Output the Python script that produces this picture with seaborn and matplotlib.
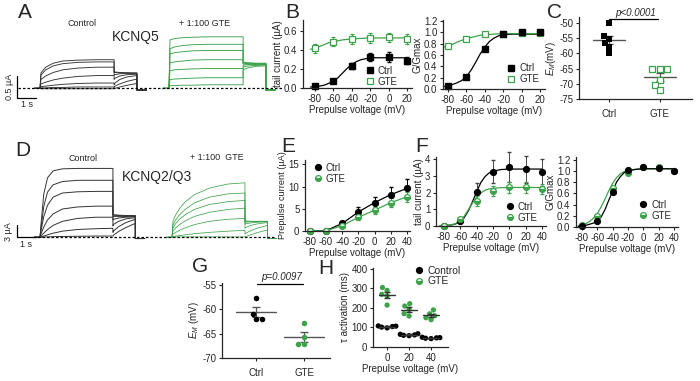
import matplotlib
matplotlib.use("Agg")
import matplotlib.pyplot as plt
from matplotlib.lines import Line2D
import numpy as np
import pandas as pd
import seaborn as sns

# ---------------- data ----------------
# A: KCNQ5 current traces (uA) sampled at pulse / tail times (s)
a_t_pulse = [0.0, 0.05, 0.3, 0.7, 1.2, 2.0, 3.0, 3.9]
a_t_tail = [3.9, 3.95, 4.2, 4.6, 5.1]
a_ctrl_pulse = [
    [0, 0.35, 0.48, 0.57, 0.62, 0.64, 0.65, 0.65],
    [0, 0.30, 0.42, 0.51, 0.56, 0.59, 0.60, 0.60],
    [0, 0.20, 0.28, 0.36, 0.42, 0.46, 0.48, 0.48],
    [0, 0.10, 0.14, 0.19, 0.23, 0.27, 0.29, 0.29],
    [0, 0.04, 0.05, 0.07, 0.09, 0.11, 0.12, 0.12],
    [0, 0.01, 0.01, 0.02, 0.02, 0.03, 0.03, 0.03],
    [0, -0.01, -0.01, -0.01, -0.01, -0.01, -0.01, -0.01],
]
a_ctrl_tail = [
    [0.37, 0.37, 0.36, 0.35, 0.35],
    [0.36, 0.36, 0.35, 0.35, 0.34],
    [0.30, 0.31, 0.33, 0.34, 0.34],
    [0.20, 0.23, 0.28, 0.31, 0.32],
    [0.08, 0.12, 0.20, 0.26, 0.29],
    [0.02, 0.05, 0.10, 0.16, 0.21],
    [-0.01, 0.00, 0.03, 0.07, 0.11],
]
a_gte_pulse = [
    [0, 1.10, 1.13, 1.15, 1.16, 1.17, 1.17, 1.17],
    [0, 0.90, 0.94, 0.97, 0.99, 1.00, 1.00, 1.00],
    [0, 0.78, 0.81, 0.83, 0.85, 0.86, 0.86, 0.86],
    [0, 0.58, 0.60, 0.62, 0.64, 0.65, 0.65, 0.65],
    [0, 0.40, 0.42, 0.43, 0.44, 0.45, 0.45, 0.45],
    [0, 0.20, 0.21, 0.22, 0.23, 0.24, 0.24, 0.24],
    [0, 0.06, 0.06, 0.07, 0.07, 0.08, 0.08, 0.08],
]
a_gte_tail = [
    [0.60, 0.59, 0.58, 0.57, 0.57],
    [0.58, 0.58, 0.57, 0.56, 0.56],
    [0.57, 0.57, 0.56, 0.56, 0.55],
    [0.55, 0.55, 0.55, 0.55, 0.55],
    [0.52, 0.53, 0.54, 0.54, 0.54],
    [0.47, 0.49, 0.51, 0.52, 0.53],
    [0.40, 0.43, 0.47, 0.50, 0.51],
]
a_off = -0.04

# D: KCNQ2/Q3 current traces (uA)
d_t_pulse = [0.0, 0.05, 0.2, 0.4, 0.7, 1.2, 2.0, 3.0, 3.9]
d_t_tail = [3.9, 3.95, 4.2, 4.6, 5.1]
d_ctrl_pulse = [
    [0, 3.0, 10.5, 14.5, 16.2, 16.7, 16.8, 16.8, 16.8],
    [0, 2.0, 7.5, 11.0, 12.8, 13.6, 13.9, 13.9, 13.9],
    [0, 1.5, 5.0, 7.8, 9.8, 10.8, 11.1, 11.2, 11.2],
    [0, 0.8, 2.5, 4.2, 5.7, 6.9, 7.4, 7.6, 7.6],
    [0, 0.3, 1.0, 1.9, 2.9, 3.9, 4.6, 4.9, 4.9],
    [0, 0.1, 0.3, 0.6, 1.0, 1.5, 1.9, 2.1, 2.2],
    [0, 0.0, 0.05, 0.1, 0.15, 0.2, 0.25, 0.3, 0.3],
]
d_ctrl_tail = [
    [5.6, 5.5, 5.4, 5.3, 5.3],
    [5.4, 5.4, 5.3, 5.2, 5.2],
    [5.1, 5.1, 5.1, 5.1, 5.1],
    [4.2, 4.4, 4.7, 4.9, 5.0],
    [2.8, 3.2, 3.9, 4.5, 4.8],
    [1.2, 1.6, 2.6, 3.6, 4.4],
    [0.3, 0.6, 1.4, 2.4, 3.4],
]
d_gte_pulse = [
    [0, 4.0, 5.5, 7.0, 8.6, 10.4, 12.0, 13.0, 13.3],
    [0, 3.0, 4.3, 5.5, 6.8, 8.4, 9.8, 10.6, 10.8],
    [0, 2.3, 3.4, 4.4, 5.5, 6.8, 8.0, 8.7, 9.0],
    [0, 1.5, 2.3, 3.1, 4.0, 5.1, 6.1, 6.8, 7.1],
    [0, 0.8, 1.2, 1.7, 2.3, 3.1, 3.9, 4.4, 4.6],
    [0, 0.2, 0.3, 0.4, 0.6, 0.9, 1.2, 1.5, 1.7],
    [0, 0.1, 0.1, 0.1, 0.1, 0.1, 0.1, 0.1, 0.1],
]
d_gte_tail = [
    [4.0, 4.0, 3.9, 3.9, 3.9],
    [3.9, 3.9, 3.9, 3.9, 3.9],
    [3.7, 3.7, 3.8, 3.8, 3.8],
    [3.2, 3.3, 3.5, 3.7, 3.8],
    [2.2, 2.4, 2.9, 3.3, 3.6],
    [0.8, 1.0, 1.6, 2.3, 2.9],
    [0.1, 0.2, 0.6, 1.2, 1.8],
]
d_off = -0.3

# B: KCNQ5 tail current and G/Gmax
b_volts = [-80, -60, -40, -20, 0, 20]
b_tail_ctrl = [0.02, 0.07, 0.23, 0.33, 0.33, 0.29]
b_tail_ctrl_err = [0.01, 0.01, 0.03, 0.04, 0.05, 0.04]
b_tail_gte = [0.42, 0.49, 0.52, 0.53, 0.535, 0.52]
b_tail_gte_err = [0.05, 0.05, 0.05, 0.05, 0.05, 0.05]
b_fit_v = [-85, -80, -75, -70, -65, -60, -55, -50, -45, -40, -35, -30, -25, -20, -10, 0, 10, 20]
b_tail_ctrl_fit = [0.01, 0.015, 0.02, 0.03, 0.05, 0.07, 0.11, 0.16, 0.21, 0.25, 0.28, 0.30, 0.31, 0.32, 0.32, 0.32, 0.32, 0.32]
b_tail_gte_fit = [0.41, 0.42, 0.44, 0.46, 0.48, 0.49, 0.50, 0.51, 0.515, 0.52, 0.523, 0.525, 0.528, 0.53, 0.53, 0.53, 0.53, 0.53]
b_g_ctrl = [0.06, 0.21, 0.70, 0.98, 1.0, 1.0]
b_g_gte = [0.76, 0.89, 0.97, 0.98, 0.99, 0.99]
b_g_ctrl_fit = [0.04, 0.06, 0.08, 0.11, 0.15, 0.22, 0.33, 0.47, 0.62, 0.74, 0.84, 0.90, 0.94, 0.96, 0.97, 0.97, 0.97, 0.97]
b_g_gte_fit = [0.74, 0.76, 0.79, 0.83, 0.86, 0.89, 0.91, 0.93, 0.95, 0.96, 0.965, 0.97, 0.975, 0.98, 0.98, 0.98, 0.98, 0.98]

# C: KCNQ5 resting membrane potential (mV)
c_ctrl = [-50.0, -54.1, -55.2, -56.6, -57.9, -59.9]
c_gte = [-65.1, -65.1, -65.1, -68.7, -70.4, -72.0]

# E / F: KCNQ2/Q3 prepulse current, tail current and G/Gmax
ef_volts = [-80, -60, -40, -20, 0, 20, 40]
e_ctrl = [0.0, 0.1, 1.7, 4.3, 6.4, 8.2, 9.6]
e_ctrl_err = [0.05, 0.1, 0.4, 1.0, 1.3, 1.7, 2.2]
e_gte = [0.0, 0.05, 1.2, 3.1, 4.7, 6.4, 7.7]
e_gte_err = [0.05, 0.1, 0.3, 0.6, 0.8, 1.0, 1.2]
f_tail_ctrl = [0.0, 0.3, 2.05, 3.25, 3.5, 3.38, 3.2]
f_tail_ctrl_err = [0.05, 0.1, 0.5, 0.7, 0.9, 0.8, 0.8]
f_tail_gte = [0.0, 0.4, 1.5, 2.1, 2.3, 2.3, 2.2]
f_tail_gte_err = [0.05, 0.1, 0.3, 0.3, 0.3, 0.3, 0.3]
f_fit_v = [-85, -80, -75, -70, -65, -60, -55, -50, -45, -40, -35, -30, -25, -20, -10, 0, 10, 20, 30, 40]
f_tail_ctrl_fit = [0.01, 0.02, 0.04, 0.07, 0.14, 0.28, 0.52, 0.92, 1.46, 2.06, 2.58, 2.94, 3.16, 3.28, 3.37, 3.4, 3.4, 3.4, 3.4, 3.4]
f_tail_gte_fit = [0.01, 0.02, 0.04, 0.08, 0.17, 0.34, 0.60, 0.98, 1.38, 1.73, 1.97, 2.13, 2.21, 2.25, 2.29, 2.3, 2.3, 2.3, 2.3, 2.3]
f_g_ctrl = [0.02, 0.10, 0.62, 1.01, 1.08, 1.05, 1.00]
f_g_gte = [0.03, 0.20, 0.69, 0.97, 1.07, 1.08, 1.00]
f_g_ctrl_fit = [0.01, 0.02, 0.03, 0.05, 0.07, 0.10, 0.18, 0.31, 0.48, 0.64, 0.80, 0.90, 0.97, 1.00, 1.03, 1.04, 1.04, 1.04, 1.04, 1.04]
f_g_gte_fit = [0.02, 0.03, 0.06, 0.10, 0.16, 0.24, 0.36, 0.50, 0.65, 0.78, 0.88, 0.95, 0.99, 1.01, 1.03, 1.04, 1.04, 1.04, 1.04, 1.04]

# G: KCNQ2/Q3 resting membrane potential (mV)
g_ctrl = [-57.7, -60.9, -61.9, -61.9]
g_gte = [-62.9, -65.6, -67.1, -67.1]

# H: activation time constant (ms)
h_volts = ["0", "20", "40"]
h_ctrl = [[98, 102, 105, 107, 108], [58, 60, 62, 65, 68], [43, 45, 47, 48, 50]]
h_gte = [[215, 262, 270, 290, 305], [159, 171, 193, 210, 222], [140, 150, 160, 170, 190]]

# ---------------- style ----------------
sns.set_style("ticks")
plt.rcParams['font.family'] = ['Liberation Sans', 'DejaVu Sans']
plt.rcParams['axes.unicode_minus'] = False
plt.rcParams['mathtext.fontset'] = 'custom'
plt.rcParams['mathtext.rm'] = 'Liberation Sans'
plt.rcParams['mathtext.it'] = 'Liberation Sans:italic'
plt.rcParams['axes.linewidth'] = 0.9
plt.rcParams['xtick.major.size'] = 2.5
plt.rcParams['ytick.major.size'] = 2.5
plt.rcParams['xtick.major.width'] = 0.8
plt.rcParams['ytick.major.width'] = 0.8
plt.rcParams['xtick.major.pad'] = 1.5
plt.rcParams['ytick.major.pad'] = 1.5
plt.rcParams['xtick.labelsize'] = 7
plt.rcParams['ytick.labelsize'] = 7
plt.rcParams['axes.labelsize'] = 7
plt.rcParams['axes.labelpad'] = 1.5

GREEN = '#3da34a'
W, H = 700, 381

fig = plt.figure(figsize=(7, 3.81), dpi=100)


def box(x0, y0, x1, y1):
    return fig.add_axes([x0 / W, 1 - y1 / H, (x1 - x0) / W, (y1 - y0) / H])


def draw_traces(ax, t0, tp, pulses, tt, tails, off, color, lw):
    for p, q in zip(pulses, tails):
        x = [t0 - 0.3, t0] + [t0 + v for v in tp] + [t0 + v for v in tt] + [t0 + tt[-1], t0 + tt[-1] + 0.5]
        y = [0, 0] + list(p) + list(q) + [off, off]
        ax.plot(x, y, color=color, lw=lw, solid_joinstyle='round')


def trace_axes(ax, xlim, ylim):
    ax.set_xlim(*xlim)
    ax.set_ylim(*ylim)
    ax.axis('off')


# ---------------- A ----------------
axA = box(0, 15, 290, 112)
trace_axes(axA, (-40 / 19, 250 / 19), ((88.3 - 112) / 44, (88.3 - 15) / 44))
draw_traces(axA, 0, a_t_pulse, a_ctrl_pulse, a_t_tail, a_ctrl_tail, a_off, '#333333', 0.65)
draw_traces(axA, 6.79, a_t_pulse, a_gte_pulse, a_t_tail, a_gte_tail, a_off, GREEN, 0.65)
axA.plot([-1.16, 12.74], [0, 0], ls=(0, (2, 1.6)), color='black', lw=0.9)
axA.plot([-1.21, -1.21, -0.21], [0.28, -0.22, -0.22], color='black', lw=0.9)
axA.text(-1.6, 0.03, '0.5 µA', rotation=90, ha='center', va='center', fontsize=6.5)
axA.text(-0.7, -0.27, '1 s', ha='center', va='top', fontsize=6.5)

# ---------------- D ----------------
axD = box(0, 140, 290, 262)
trace_axes(axD, (-40 / 18.7, 250 / 18.7), ((237.3 - 262) / 4.1, (237.3 - 140) / 4.1))
draw_traces(axD, 0, d_t_pulse, d_ctrl_pulse, d_t_tail, d_ctrl_tail, d_off, '#333333', 0.7)
draw_traces(axD, 7.06, d_t_pulse, d_gte_pulse, d_t_tail, d_gte_tail, d_off, GREEN, 0.55)
axD.plot([-0.4, 12.6], [0, 0], ls=(0, (2, 1.6)), color='black', lw=0.9)
axD.plot([-1.23, -1.23, -0.23], [3.0, 0, 0], color='black', lw=0.9)
axD.text(-1.7, 1.5, '3 µA', rotation=90, ha='center', va='center', fontsize=6.5)
axD.text(-0.73, -0.6, '1 s', ha='center', va='top', fontsize=6.5)


# ---------------- helpers for the curve panels ----------------
def finish(ax, xlim, ylim, xticks, yticks, xlabel, ylabel, yfmt=None):
    ax.set_xlim(*xlim)
    ax.set_ylim(*ylim)
    ax.set_xticks(xticks)
    ax.set_yticks(yticks)
    if yfmt:
        ax.set_yticklabels([yfmt.format(v) for v in yticks])
    ax.set_xlabel(xlabel, labelpad=1)
    ax.set_ylabel(ylabel, labelpad=1)
    sns.despine(ax=ax)
    ax.patch.set_alpha(0)


def small_legend(ax, handles, labels, loc, anchor):
    ax.legend(handles, labels, loc=loc, bbox_to_anchor=anchor, frameon=False, fontsize=7,
              handlelength=0.8, handletextpad=0.4, labelspacing=0.1, borderpad=0)


sq_ctrl = dict(marker='s', ms=3.8, mfc='black', mec='black', ls='none')
sq_gte = dict(marker='s', ms=4.2, mfc='white', mec=GREEN, mew=0.9, ls='none')
ci_ctrl = dict(marker='o', ms=4.2, mfc='black', mec='black')
ci_gte = dict(marker='o', ms=4.2, mfc=GREEN, mec=GREEN, fillstyle='bottom', mfcalt='white', mew=0.9)
ci_h = [Line2D([], [], ls='none', **ci_ctrl), Line2D([], [], ls='none', **ci_gte)]
sq_h = [Line2D([], [], **sq_ctrl), Line2D([], [], **sq_gte)]

# ---------------- B left ----------------
axB1 = box(303, 20, 412, 88)
axB1.plot(b_fit_v, b_tail_ctrl_fit, color='black', lw=0.9)
axB1.plot(b_fit_v, b_tail_gte_fit, color=GREEN, lw=0.9)
axB1.errorbar(b_volts, b_tail_ctrl, yerr=b_tail_ctrl_err, ecolor='black', elinewidth=0.7, capsize=1.5, clip_on=False, **sq_ctrl)
axB1.errorbar(b_volts, b_tail_gte, yerr=b_tail_gte_err, ecolor=GREEN, elinewidth=0.7, capsize=1.5, clip_on=False, **sq_gte)
finish(axB1, (-93, 25), (0, 0.72), [-80, -60, -40, -20, 0, 20], [0, 0.2, 0.4, 0.6],
       'Prepulse voltage (mV)', 'tail current (µA)', '{:.1f}')
small_legend(axB1, sq_h, ['Ctrl', 'GTE'], 'lower right', (0.91, -0.05))

# ---------------- B right ----------------
axB2 = box(443, 20, 545, 89)
axB2.plot(b_fit_v, b_g_ctrl_fit, color='black', lw=0.9)
axB2.plot(b_fit_v, b_g_gte_fit, color=GREEN, lw=0.9)
axB2.plot(b_volts, b_g_gte, clip_on=False, **sq_gte)
axB2.plot(b_volts, b_g_ctrl, clip_on=False, **sq_ctrl)
finish(axB2, (-85.4, 25.4), (0, 1.22), [-80, -60, -40, -20, 0, 20], [0, 0.2, 0.4, 0.6, 0.8, 1.0, 1.2],
       'Prepulse voltage (mV)', 'G/Gmax', '{:.1f}')
small_legend(axB2, sq_h, ['Ctrl', 'GTE'], 'lower right', (0.99, 0.0))


# ---------------- scatter panels ----------------
def dot_panel(ax, groups, values, colors, markers, open_face, size, mean_w, cap):
    df = pd.DataFrame({'group': np.repeat(groups, [len(v) for v in values]),
                       'value': np.concatenate(values)})
    for i, g in enumerate(groups):
        sns.swarmplot(data=df[df.group == g], x='group', y='value', order=groups, color=colors[i],
                      marker=markers[i], size=size, ax=ax, warn_thresh=1.0, zorder=3)
        coll = ax.collections[-1]
        if open_face[i]:
            coll.set_facecolor('white')
            coll.set_edgecolor(colors[i])
            coll.set_linewidth(0.9)
        else:
            coll.set_edgecolor(colors[i])
        vals = np.array(values[i])
        m = vals.mean()
        s = vals.std(ddof=1) / np.sqrt(len(vals))
        ax.plot([i - mean_w, i + mean_w], [m, m], color='#555555', lw=1.0, zorder=2)
        ax.errorbar(i, m, yerr=s, color='#555555', elinewidth=0.9, capsize=cap, zorder=2)


# C
axC = box(579, 17, 692, 99)
dot_panel(axC, ['Ctrl', 'GTE'], [c_ctrl, c_gte], ['black', GREEN], ['s', 's'], [False, True], 4.2, 0.32, 3)
axC.set_xlim(-0.59, 1.63)
axC.set_ylim(-75, -48)
axC.set_yticks([-50, -55, -60, -65, -70, -75])
axC.set_xlabel('')
axC.set_ylabel(r'$E_M$(mV)', labelpad=1)
axC.tick_params(axis='x', pad=5)
sns.despine(ax=axC)
axC.plot([0, 0.97], [-48.6, -48.6], color='black', lw=0.9, clip_on=False)
fig.text(636 / W, 1 - 13 / H, 'p<0.0001', style='italic', fontsize=7, ha='center', va='center')

# G
axG = box(222, 283, 330, 358)
dot_panel(axG, ['Ctrl', 'GTE'], [g_ctrl, g_gte], ['black', GREEN], ['o', 'o'], [False, False], 4.0, 0.42, 3)
axG.set_xlim(-0.71, 1.54)
axG.set_ylim(-70, -54.6)
axG.set_yticks([-55, -60, -65, -70])
axG.set_xlabel('')
axG.set_ylabel(r'$E_M$ (mV)', labelpad=1)
axG.tick_params(axis='x', pad=5)
sns.despine(ax=axG)
axG.plot([0.02, 0.98], [-54.8, -54.8], color='black', lw=0.9, clip_on=False)
fig.text(282 / W, 1 - 277 / H, 'p=0.0097', style='italic', fontsize=7, ha='center', va='center')

# ---------------- E ----------------
axE = box(305, 160, 410, 231)
axE.errorbar(ef_volts, e_ctrl, yerr=e_ctrl_err, color='black', lw=0.9, elinewidth=0.7, capsize=1.5,
             clip_on=False, **ci_ctrl)
axE.errorbar(ef_volts, e_gte, yerr=e_gte_err, color=GREEN, lw=0.9, elinewidth=0.7, capsize=1.5,
             clip_on=False, **ci_gte)
finish(axE, (-86, 43.7), (0, 16), ef_volts, [0, 5, 10, 15], 'Prepulse voltage (mV)', 'Prepulse current (µA)')
axE.yaxis.label.set_fontsize(6.6)
small_legend(axE, ci_h, ['Ctrl', 'GTE'], 'upper left', (0.04, 1.03))

# ---------------- F left ----------------
axF1 = box(436, 157, 546, 226)
axF1.plot(f_fit_v, f_tail_ctrl_fit, color='black', lw=0.9)
axF1.plot(f_fit_v, f_tail_gte_fit, color=GREEN, lw=0.9)
axF1.errorbar(ef_volts, f_tail_ctrl, yerr=f_tail_ctrl_err, ls='none', ecolor='#444444', elinewidth=0.7,
              capsize=1.5, clip_on=False, **ci_ctrl)
axF1.errorbar(ef_volts, f_tail_gte, yerr=f_tail_gte_err, ls='none', ecolor=GREEN, elinewidth=0.7,
              capsize=1.5, clip_on=False, **ci_gte)
finish(axF1, (-89.8, 44.9), (0, 4.12), ef_volts, [0, 1, 2, 3, 4], 'Prepulse voltage (mV)', 'tail current (µA)')
small_legend(axF1, ci_h, ['Ctrl', 'GTE'], 'lower right', (0.97, -0.02))

# ---------------- F right ----------------
axF2 = box(576, 157, 678, 227)
axF2.plot(f_fit_v, f_g_gte_fit, color=GREEN, lw=0.9)
axF2.plot(f_fit_v, f_g_ctrl_fit, color='black', lw=0.9)
axF2.plot(ef_volts, f_g_gte, ls='none', clip_on=False, **ci_gte)
axF2.plot(ef_volts, f_g_ctrl, ls='none', clip_on=False, **ci_ctrl)
finish(axF2, (-87.8, 45.2), (0, 1.25), ef_volts, [0, 0.2, 0.4, 0.6, 0.8, 1.0, 1.2], 'Prepulse voltage (mV)',
       'G/Gmax', '{:.1f}')
small_legend(axF2, ci_h, ['Ctrl', 'GTE'], 'lower right', (0.98, 0.02))

# ---------------- H ----------------
axH = box(373, 268, 448, 347)
rows = []
for i, v in enumerate(h_volts):
    rows += [(v, 'Control', t) for t in h_ctrl[i]]
    rows += [(v, 'GTE', t) for t in h_gte[i]]
h_df = pd.DataFrame(rows, columns=['volt', 'cond', 'tau'])
sns.swarmplot(data=h_df, x='volt', y='tau', hue='cond', order=h_volts, palette={'Control': 'black', 'GTE': GREEN},
              size=3.8, ax=axH, legend=False, warn_thresh=1.0, zorder=3)
for i, v in enumerate(h_volts):
    for vals in (h_ctrl[i], h_gte[i]):
        vals = np.array(vals)
        m = vals.mean()
        s = vals.std(ddof=1) / np.sqrt(len(vals))
        axH.plot([i - 0.38, i + 0.38], [m, m], color='#333333', lw=1.0, zorder=4)
        axH.errorbar(i, m, yerr=s, color='#333333', elinewidth=0.8, capsize=2, zorder=4)
axH.set_xlim(-0.64, 2.77)
axH.set_ylim(0, 405)
axH.set_yticks([0, 100, 200, 300, 400])
axH.set_xlabel('Prepulse voltage (mV)', labelpad=1)
axH.set_ylabel('τ activation (ms)', labelpad=1)
sns.despine(ax=axH)
fig.legend(ci_h, ['Control', 'GTE'], loc='center left', bbox_to_anchor=(410 / W, 1 - 276 / H), frameon=False,
           fontsize=7.5, handlelength=0.8, handletextpad=0.4, labelspacing=0.05, borderpad=0)

# ---------------- panel letters and labels ----------------
for txt, x, y in [('A', 25, 13), ('B', 292, 12), ('C', 555, 12), ('D', 23, 150), ('E', 288, 146),
                  ('F', 422, 147), ('G', 200, 266), ('H', 326, 268)]:
    fig.text(x / W, 1 - y / H, txt, fontsize=15, ha='center', va='center')
fig.text(82 / W, 1 - 23 / H, 'Control', fontsize=6.5, ha='center', va='center')
fig.text(205 / W, 1 - 23 / H, '+ 1:100 GTE', fontsize=6.5, ha='center', va='center')
fig.text(136 / W, 1 - 37 / H, 'KCNQ5', fontsize=10, ha='center', va='center')
fig.text(83 / W, 1 - 158 / H, 'Control', fontsize=6.5, ha='center', va='center')
fig.text(217 / W, 1 - 157 / H, '+ 1:100  GTE', fontsize=6.5, ha='center', va='center')
fig.text(157 / W, 1 - 177 / H, 'KCNQ2/Q3', fontsize=10, ha='center', va='center')

fig.savefig('out.png', dpi=100)
